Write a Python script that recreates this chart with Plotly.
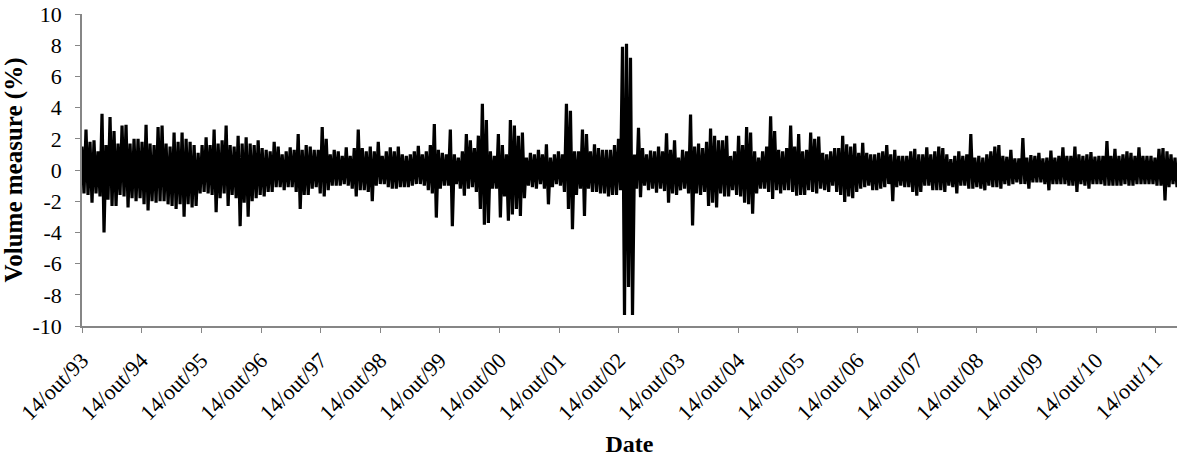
import pandas as pd
import plotly.graph_objects as go

# Envelope readings (max / min of the daily volume measure, %) read column by column
# from the picture, in chronological order, one segment per ~3 years of the axis.
hi_1993_96 = [1.5, 2.6, 1.8, 1.9, 1.2, 3.6, 1.6, 3.4, 2.5, 1.7, 2.85, 2.9, 1.7, 2.0, 2.0, 1.8,
              2.9, 1.7, 1.6, 2.75, 2.85, 1.7, 1.5, 2.4, 1.8, 2.4, 2.0, 1.8, 1.6, 1.1, 1.6, 2.1,
              1.6, 2.6, 1.7, 1.9, 2.85, 1.6, 1.5, 2.2, 1.7, 2.1, 1.7, 1.6, 1.9, 1.4]
lo_1993_96 = [-1.5, -1.6, -2.1, -1.5, -1.7, -4.0, -1.9, -2.3, -2.3, -1.6, -1.7, -2.4, -1.8, -2.0,
              -1.8, -2.2, -2.6, -2.0, -2.1, -2.0, -2.0, -2.2, -2.3, -2.5, -2.2, -3.0, -2.2, -2.4,
              -2.3, -1.5, -1.4, -1.5, -1.6, -2.7, -1.8, -1.5, -2.3, -1.6, -1.8, -3.6, -2.1, -3.0,
              -2.0, -1.8, -1.6, -1.7]

hi_1996_99 = [1.3, 1.2, 1.8, 1.5, 1.0, 1.2, 1.45, 1.3, 2.3, 1.3, 1.6, 1.5, 1.3, 1.3, 2.75, 2.0,
              1.0, 1.3, 1.2, 0.9, 1.45, 0.9, 1.4, 2.6, 1.4, 1.2, 1.5, 1.2, 1.8, 0.9, 1.2, 1.45,
              1.2, 1.5, 1.0, 0.9, 1.0, 1.2, 1.55, 1.0, 1.2, 1.6, 2.95, 1.3, 1.1, 1.0]
lo_1996_99 = [-1.4, -1.4, -1.1, -1.1, -1.3, -1.1, -1.1, -1.4, -2.5, -1.6, -1.6, -1.2, -1.1, -1.5,
              -1.7, -1.3, -1.0, -1.0, -1.0, -0.9, -1.0, -1.2, -1.7, -1.3, -1.3, -1.4, -2.0, -1.0,
              -0.9, -0.9, -1.1, -1.2, -1.2, -1.1, -1.1, -1.1, -1.0, -0.9, -0.9, -1.0, -1.3, -1.5,
              -3.05, -1.2, -1.0, -1.0]

hi_1999_02 = [2.6, 1.0, 0.8, 1.2, 2.3, 1.9, 1.4, 2.2, 4.25, 3.2, 1.2, 0.9, 2.3, 1.6, 1.0, 3.2,
              2.85, 2.2, 2.4, 0.8, 1.1, 1.0, 1.3, 1.0, 1.65, 0.8, 1.0, 1.2, 1.0, 4.25, 3.8, 1.2,
              1.2, 2.6, 2.3, 1.2, 1.65, 1.4, 1.3, 1.3, 1.3, 1.6, 2.0, 7.9, 8.1, 7.2]
lo_1999_02 = [-3.6, -0.9, -1.2, -1.65, -1.2, -1.1, -1.4, -2.5, -3.5, -3.4, -1.2, -1.2, -3.05, -1.7,
              -3.25, -2.85, -2.5, -2.95, -1.8, -1.0, -1.1, -1.2, -0.9, -1.2, -2.2, -1.1, -0.9,
              -1.0, -1.4, -2.5, -3.8, -1.6, -1.2, -2.95, -1.2, -1.4, -1.4, -1.5, -1.5, -1.7, -1.6,
              -1.6, -1.3, -9.3, -7.5, -9.3]

hi_2002_05 = [1.0, 2.7, 1.4, 1.0, 1.25, 1.2, 1.5, 1.2, 2.35, 1.3, 1.9, 0.8, 1.3, 1.2, 3.55, 1.5,
              1.7, 1.4, 1.8, 2.65, 2.2, 1.9, 1.9, 2.2, 0.9, 1.2, 2.2, 1.6, 2.75, 2.4, 1.2, 0.8,
              1.2, 1.5, 3.45, 2.5, 1.3, 1.2, 1.4, 2.85, 1.5, 2.3, 1.2, 1.3, 2.4, 2.0]
lo_2002_05 = [-1.2, -1.75, -1.0, -1.3, -1.2, -1.45, -1.2, -1.35, -2.1, -1.5, -1.6, -1.3, -1.2, -1.5,
              -3.55, -1.5, -1.6, -1.4, -2.3, -2.1, -2.4, -1.5, -1.7, -1.7, -1.3, -1.6, -1.7, -2.1,
              -2.2, -2.8, -1.5, -1.2, -1.2, -1.4, -1.85, -1.3, -1.5, -1.3, -1.3, -1.4, -1.65,
              -1.6, -1.6, -1.3, -1.4, -1.5]

hi_2005_09 = [2.15, 1.1, 1.0, 1.2, 1.4, 1.4, 2.2, 1.65, 1.5, 1.7, 1.1, 1.75, 1.1, 1.0, 1.0, 1.1,
              1.2, 1.6, 1.0, 1.3, 0.9, 0.9, 0.9, 1.2, 1.35, 1.0, 1.0, 1.45, 1.0, 1.2, 1.5, 1.4,
              1.0, 0.7, 0.9, 1.2, 0.9, 1.0, 2.3, 0.8, 0.9, 0.8, 1.0, 1.2, 1.5, 1.6]
lo_2005_09 = [-1.2, -1.3, -1.4, -1.0, -1.4, -1.6, -2.05, -1.7, -1.8, -1.4, -1.2, -1.1, -1.0, -1.3,
              -1.3, -1.2, -1.1, -0.9, -2.0, -1.1, -1.0, -1.1, -1.1, -1.4, -1.65, -1.4, -1.0, -1.0,
              -1.3, -1.3, -1.3, -1.4, -1.0, -1.1, -1.5, -1.0, -1.0, -1.2, -1.2, -1.1, -1.2, -1.3,
              -1.0, -1.1, -1.1, -1.2]

hi_2009_12 = [0.9, 0.85, 1.3, 0.75, 0.75, 2.05, 0.8, 0.95, 0.9, 1.1, 0.75, 0.8, 1.25, 0.8, 0.9,
              1.45, 0.9, 0.9, 1.5, 1.0, 0.9, 1.0, 1.15, 0.85, 0.9, 0.9, 1.85, 0.9, 1.35, 0.9, 1.0,
              1.2, 1.1, 0.9, 1.45, 0.9, 0.9, 0.9, 0.8, 1.35, 1.4, 1.2, 1.0, 0.8]
lo_2009_12 = [-0.9, -1.0, -0.9, -0.8, -0.9, -0.9, -1.2, -0.8, -0.8, -0.8, -0.9, -1.3, -0.9, -0.9,
              -0.9, -0.9, -1.0, -1.0, -1.4, -0.9, -1.0, -1.2, -0.9, -0.9, -0.9, -1.0, -1.0, -1.0,
              -1.0, -1.0, -0.9, -1.0, -1.0, -0.9, -0.9, -0.9, -0.9, -0.9, -1.0, -1.0, -1.95, -1.1,
              -0.9, -1.1]

start_date = "1993-10-14"
end_date = "2012-02-21"

tick_dates = [f"{y}-10-14" for y in range(1993, 2012)]
tick_labels = [f"14/out/{str(y)[2:]}" for y in range(1993, 2012)]
y_tick_vals = [-10, -8, -6, -4, -2, 0, 2, 4, 6, 8, 10]
y_tick_labels = ["-10", "-8", "-6", "-4", "-2", "0", "2", "4", "6", "8", "10"]

hi_all = hi_1993_96 + hi_1996_99 + hi_1999_02 + hi_2002_05 + hi_2005_09 + hi_2009_12
lo_all = lo_1993_96 + lo_1996_99 + lo_1999_02 + lo_2002_05 + lo_2005_09 + lo_2009_12

values = []
for h, l in zip(hi_all, lo_all):
    values.append(h)
    values.append(l)
dates = pd.date_range(start_date, end_date, periods=len(values))

font_family = "Liberation Serif, Times New Roman, serif"
axis_grey = "#868686"

fig = go.Figure()
fig.add_trace(go.Scatter(x=dates, y=values, mode="lines",
                         line=dict(color="black", width=3.2, simplify=False),
                         showlegend=False, hoverinfo="skip"))

fig.update_layout(
    width=1189, height=465,
    margin=dict(l=82, r=12, t=14, b=139),
    paper_bgcolor="white", plot_bgcolor="white",
    font=dict(family=font_family, size=22, color="black"),
    showlegend=False,
)
fig.update_xaxes(
    type="date", range=[start_date, end_date], automargin=False,
    tickmode="array", tickvals=tick_dates, ticktext=tick_labels, tickangle=-45,
    showline=True, linecolor=axis_grey, linewidth=1.5,
    ticks="outside", ticklen=5, tickcolor=axis_grey, tickwidth=1.2,
    ticklabelstandoff=6,
    showgrid=False, zeroline=False,
    tickfont=dict(family=font_family, size=22, color="black"),
    title=dict(text="<b>Date</b>", standoff=11,
               font=dict(family=font_family, size=24, color="black")),
)
fig.update_yaxes(
    range=[-10, 10], automargin=False,
    tickmode="array", tickvals=y_tick_vals, ticktext=y_tick_labels,
    showline=True, linecolor=axis_grey, linewidth=1.5,
    ticks="outside", ticklen=5, tickcolor=axis_grey, tickwidth=1.2,
    ticklabelstandoff=9,
    showgrid=False, zeroline=False,
    tickfont=dict(family=font_family, size=22, color="black"),
    title=dict(text="<b>Volume measure (%)</b>", standoff=12,
               font=dict(family=font_family, size=25, color="black")),
)

fig.write_html("out.html")
